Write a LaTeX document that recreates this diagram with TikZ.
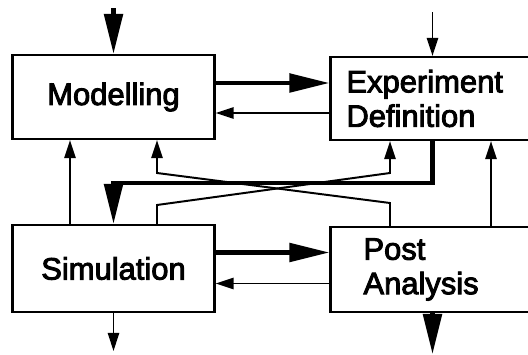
\documentclass[tikz,border=0pt]{standalone}
\usepackage{fontspec}
\setmainfont{Liberation Sans}
\newfontfamily\boxfont{Liberation Sans}[FakeBold=3]
\usetikzlibrary{arrows.meta}
\tikzset{
  box/.style={draw, line width=1.5pt, inner sep=0pt, font=\fontsize{22}{24.5}\boxfont},
  flow/.style={line width=1.4pt, -{Triangle[length=0.45cm,width=0.28cm]}},
  bigflow/.style={line width=3pt, -{Triangle[length=1cm,width=0.46cm]}},
}
\begin{document}
\begin{tikzpicture}[x=0.025cm,y=-0.025cm]
\useasboundingbox (0,0) rectangle (528,355);
% boxes
\node[box, minimum width=5.05cm, minimum height=2.1cm] (model) at (113.5,97) {Modelling};
\node[box, minimum height=2.075cm, inner xsep=0.4cm, text width=4.3cm, align=left] (expt) at (432.5,98.5) {Experiment\\Definition};
\node[box, minimum width=5.05cm, minimum height=2.175cm] (sim) at (113.5,268.5) {Simulation};
\node[box, minimum height=2.125cm, inner xsep=0.825cm, text width=3.45cm, align=left] (post) at (432.5,269.5) {Post\\Analysis};
% free ends and bends
\coordinate (in1) at (113.5,8);
\coordinate (in2) at (432.5,12);
\coordinate (out1) at (113.5,351);
\coordinate (out2) at (432.5,354);
\coordinate (lx) at (70,0);
\coordinate (rx) at (491,0);
\coordinate (hub) at (113.5,183);
\coordinate (ml) at (157,173);
\coordinate (pl) at (390,203);
\coordinate (sl) at (157,205);
\coordinate (el) at (390,173);
% inputs and outputs
\draw[bigflow] (in1) -- (model.north);
\draw[flow] (in2) -- (expt.north);
\draw[flow] (sim.south) -- (out1);
\draw[bigflow] (post.south) -- (out2);
% horizontal links
\draw[bigflow] ([yshift=.35cm]model.east) -- ([yshift=.35cm]model.east -| expt.west);
\draw[flow] ([yshift=-.4cm]model.east -| expt.west) -- ([yshift=-.4cm]model.east);
\draw[bigflow] ([yshift=.4cm]sim.east) -- ([yshift=.4cm]sim.east -| post.west);
\draw[flow] ([yshift=-.375cm]sim.east -| post.west) -- ([yshift=-.375cm]sim.east);
% vertical links
\draw[flow] (sim.north -| lx) -- (model.south -| lx);
\draw[flow] (post.north -| rx) -- (expt.south -| rx);
\draw[bigflow] (expt.south) |- (hub) -- (sim.north);
\draw[flow] (post.north -| pl) -- (pl) -- (ml) -- (model.south -| ml);
\draw[flow] (sim.north -| sl) -- (sl) -- (el) -- (expt.south -| el);
\end{tikzpicture}
\end{document}
